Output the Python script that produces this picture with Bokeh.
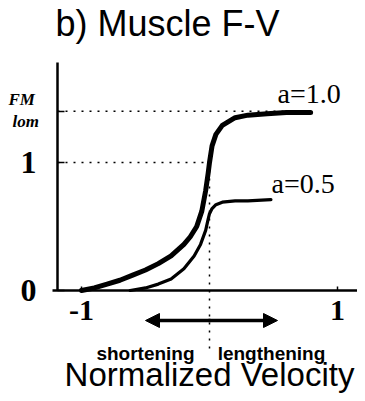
from bokeh.plotting import figure
from bokeh.models import Range1d, LinearAxis, FixedTicker, Arrow, NormalHead
from bokeh.core.properties import value
from bokeh.embed import file_html
from bokeh.resources import INLINE

# ---- data ----
v_a10 = [-1.0, -0.9, -0.8, -0.7, -0.6, -0.5, -0.4, -0.3, -0.2, -0.15, -0.1, -0.06,
         -0.03, -0.01, 0.0, 0.02, 0.05, 0.1, 0.2, 0.3, 0.45, 0.6, 0.79]
f_a10 = [0.0, 0.02, 0.05, 0.08, 0.12, 0.16, 0.21, 0.27, 0.36, 0.42, 0.50, 0.62,
         0.78, 0.92, 1.0, 1.13, 1.22, 1.29, 1.35, 1.37, 1.38, 1.39, 1.39]
v_a05 = [-0.62, -0.5, -0.4, -0.3, -0.2, -0.12, -0.07, -0.03, -0.01, 0.0, 0.02,
         0.05, 0.1, 0.2, 0.3, 0.48]
f_a05 = [0.0, 0.02, 0.05, 0.09, 0.17, 0.27, 0.36, 0.47, 0.56, 0.60, 0.64,
         0.67, 0.69, 0.70, 0.70, 0.71]
series_labels = ["a=1.0", "a=0.5"]
y_ticks = [0, 1, 1.4]
y_tick_labels = {0: "0", 1: "1", 1.4: ""}
x_ticks = [-1, 1]
x_tick_labels = {-1: "-1", 1: "1"}
guide_levels = [1.0, 1.4]
title_text = "b) Muscle F-V"
x_title = "Normalized Velocity"
dir_labels = ["shortening", "lengthening"]
y_title = ["FM", "lom"]

# ---- layout (pixel -> data mapping of the reference) ----
PX0X, PX0Y, S = 209.0, 290.0, 128.0
def dx(px): return (px - PX0X) / S
def dy(py): return (PX0Y - py) / S
def base(py, size):  # anchor so that the text baseline lands at py
    return dy(py - 0.36 * size)

W, H = 357, 393
p = figure(width=W, height=H, output_backend="svg", toolbar_location=None,
           x_range=Range1d(dx(0), dx(W)), y_range=Range1d(dy(H), dy(0)),
           x_axis_type=None, y_axis_type=None, min_border=0)
p.outline_line_color = None
p.grid.visible = False
p.background_fill_color = "white"
p.border_fill_color = "white"

axis_x_pos = dx(57)

yax = LinearAxis(fixed_location=axis_x_pos, bounds=(0, dy(62)),
                 ticker=FixedTicker(ticks=y_ticks),
                 major_label_overrides=y_tick_labels)
yax.axis_line_width = 2.5
yax.major_tick_in = 7
yax.major_tick_out = 0
yax.major_tick_line_width = 1.5
yax.minor_tick_line_color = None
yax.major_label_standoff = 21
yax.major_label_text_font = "Liberation Serif"
yax.major_label_text_font_style = "bold"
yax.major_label_text_font_size = "32px"
yax.major_label_text_color = "black"
p.add_layout(yax, "left")

xax = LinearAxis(fixed_location=0, bounds=(dx(52), dx(357)),
                 ticker=FixedTicker(ticks=x_ticks),
                 major_label_overrides=x_tick_labels)
xax.axis_line_width = 2.5
xax.major_tick_in = 4
xax.major_tick_out = 0
xax.major_tick_line_width = 1.5
xax.minor_tick_line_color = None
xax.major_label_standoff = 10
xax.major_label_text_font = "Liberation Serif"
xax.major_label_text_font_style = "bold"
xax.major_label_text_font_size = "30px"
xax.major_label_text_color = "black"
p.add_layout(xax, "below")

# dotted guides
p.line([axis_x_pos, 0.78], [guide_levels[1]] * 2, line_color="black",
       line_width=1.5, line_dash="2 6")
p.line([axis_x_pos, 0.0], [guide_levels[0]] * 2, line_color="black",
       line_width=1.5, line_dash="2 6")
p.line([0.0, 0.0], [guide_levels[0], dy(354)], line_color="black",
       line_width=1.5, line_dash="2 6")

# curves
p.line(v_a10, f_a10, line_color="black", line_width=5, line_cap="round", line_join="round")
p.line(v_a05, f_a05, line_color="black", line_width=3.2, line_cap="round", line_join="round")

serif = value("Liberation Serif")
sans = value("Liberation Sans")
p.text(x=[dx(277)], y=[base(103, 28)], text=[series_labels[0]], text_font=serif,
       text_font_size="28px", text_baseline="alphabetic", text_align="left", text_color="black")
p.text(x=[dx(271)], y=[base(193, 28)], text=[series_labels[1]], text_font=serif,
       text_font_size="28px", text_baseline="alphabetic", text_align="left", text_color="black")

# title
p.text(x=[dx(55)], y=[base(36, 36)], text=[title_text], text_font=sans,
       text_font_size="36px", text_baseline="alphabetic", text_align="left", text_color="black")

# y title (partly cut by the left edge)
p.text(x=[dx(8)], y=[base(105, 17)], text=[y_title[0]], text_font=serif, text_font_style="bold italic",
       text_font_size="17px", text_baseline="alphabetic", text_align="left", text_color="black")
p.text(x=[dx(12)], y=[base(127, 17)], text=[y_title[1]], text_font=serif, text_font_style="bold italic",
       text_font_size="17px", text_baseline="alphabetic", text_align="left", text_color="black")

# direction arrow
head = dict(size=14, fill_color="black", line_color="black")
p.add_layout(Arrow(x_start=dx(210), y_start=dy(320), x_end=dx(145), y_end=dy(320),
                   line_width=3.5, end=NormalHead(**head)))
p.add_layout(Arrow(x_start=dx(208), y_start=dy(320), x_end=dx(277), y_end=dy(320),
                   line_width=3.5, end=NormalHead(**head)))

p.text(x=[dx(145)], y=[base(360, 19)], text=[dir_labels[0]], text_font=sans, text_font_style="bold",
       text_font_size="19px", text_baseline="alphabetic", text_align="center", text_color="black")
p.text(x=[dx(271)], y=[base(360, 19)], text=[dir_labels[1]], text_font=sans, text_font_style="bold",
       text_font_size="19px", text_baseline="alphabetic", text_align="center", text_color="black")

p.text(x=[dx(209)], y=[base(386, 33)], text=[x_title], text_font=sans,
       text_font_size="33px", text_baseline="alphabetic", text_align="center", text_color="black")

open("out.html", "w").write(file_html(p, INLINE))
